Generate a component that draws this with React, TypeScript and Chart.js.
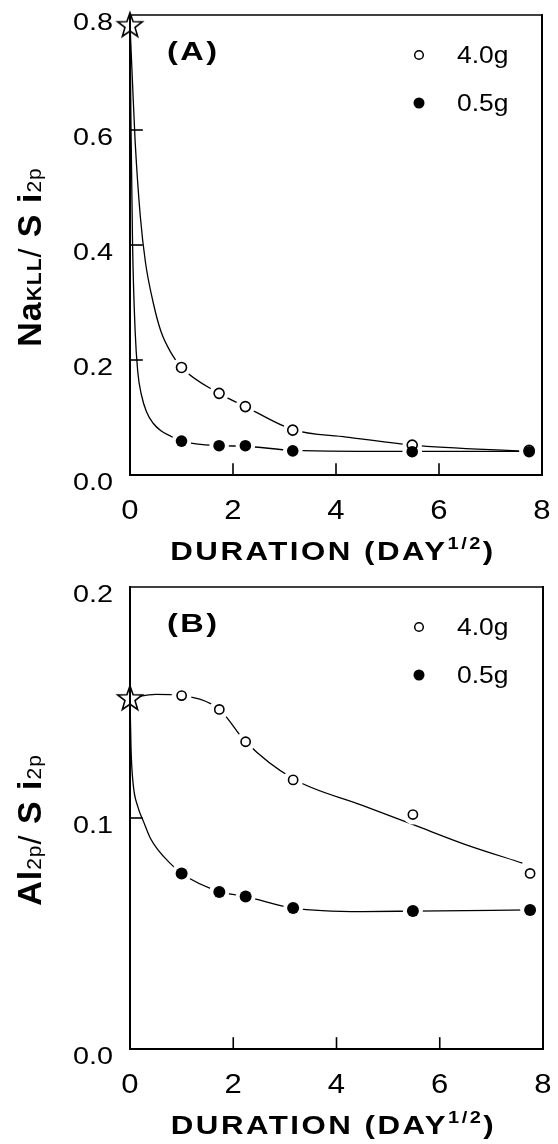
import React, { useEffect, useRef } from "react";
import { Chart, registerables } from "chart.js";

Chart.register(...registerables);

// ---------- shared ----------
const X_DAYS = [1, 1.73, 2.24, 3.16, 5.48, 7.75];
const X_TICKS = [0, 2, 4, 6, 8];
const X_TICK_LABELS = ["0", "2", "4", "6", "8"];
const SERIES_LABELS = ["4.0g", "0.5g"];

// ---------- panel A : Na(KLL)/Si(2p) ----------
const A_Y_TICKS = [0, 0.2, 0.4, 0.6, 0.8];
const A_Y_TICK_LABELS = ["0.0", "0.2", "0.4", "0.6", "0.8"];
const A_STAR = 0.783;
const A_40 = [0.187, 0.142, 0.119, 0.078, 0.052, 0.043];
const A_05 = [0.059, 0.051, 0.051, 0.042, 0.0405, 0.0405];
const A_40_CURVE_X = [0, 0.04, 0.1, 0.2, 0.3, 0.45, 0.6, 0.8, 1, 1.73, 2.24, 3.16, 4.2, 5.48, 7.75];
const A_40_CURVE_Y = [0.783, 0.7, 0.58, 0.45, 0.37, 0.3, 0.25, 0.212, 0.187, 0.142, 0.119, 0.079, 0.066, 0.052, 0.041];
const A_05_CURVE_X = [0, 0.02, 0.05, 0.1, 0.15, 0.22, 0.32, 0.45, 0.6, 0.8, 1, 1.73, 2.24, 3.16, 5.48, 7.75];
const A_05_CURVE_Y = [0.783, 0.6, 0.4, 0.25, 0.18, 0.14, 0.11, 0.09, 0.077, 0.067, 0.059, 0.051, 0.05, 0.043, 0.041, 0.041];

// ---------- panel B : Al(2p)/Si(2p) ----------
const B_Y_TICKS = [0, 0.1, 0.2];
const B_Y_TICK_LABELS = ["0.0", "0.1", "0.2"];
const B_STAR = 0.152;
const B_40 = [0.153, 0.147, 0.133, 0.1165, 0.1015, 0.076];
const B_05 = [0.076, 0.068, 0.066, 0.061, 0.0597, 0.0602];
const B_40_CURVE_X = [0, 0.5, 1, 1.73, 2.24, 3.16, 4.5, 5.5, 6.5, 7.6];
const B_40_CURVE_Y = [0.152, 0.1535, 0.153, 0.147, 0.133, 0.117, 0.1055, 0.097, 0.0885, 0.0805];
const B_05_CURVE_X = [0, 0.02, 0.06, 0.15, 0.27, 0.4, 0.55, 0.75, 1, 1.75, 2.24, 3.16, 4.5, 5.5, 7.75];
const B_05_CURVE_Y = [0.152, 0.13, 0.115, 0.105, 0.098, 0.091, 0.086, 0.081, 0.076, 0.068, 0.066, 0.061, 0.0595, 0.0597, 0.0602];

type Part = { t: string; font: string; dy?: number };

const FAM = "'Liberation Sans', Arial, sans-serif";

function txt(
  ctx: CanvasRenderingContext2D,
  s: string,
  x: number,
  y: number,
  font: string,
  align: CanvasTextAlign = "left",
  sx = 1.2,
  ls = 0
) {
  ctx.save();
  ctx.translate(x, y);
  ctx.scale(sx, 1);
  ctx.font = font;
  (ctx as any).letterSpacing = ls + "px";
  ctx.textAlign = align;
  ctx.textBaseline = "alphabetic";
  ctx.fillStyle = "#000";
  ctx.fillText(s, 0, 0);
  ctx.restore();
}

function rich(
  ctx: CanvasRenderingContext2D,
  parts: Part[],
  x: number,
  y: number,
  sx: number,
  rot: boolean,
  ls = 0
) {
  ctx.save();
  ctx.translate(x, y);
  ctx.scale(sx, 1);
  if (rot) ctx.rotate(-Math.PI / 2);
  (ctx as any).letterSpacing = ls + "px";
  ctx.textBaseline = "alphabetic";
  ctx.textAlign = "left";
  ctx.fillStyle = "#000";
  let total = 0;
  const widths = parts.map((p) => {
    ctx.font = p.font;
    const w = ctx.measureText(p.t).width;
    total += w;
    return w;
  });
  let cx = -total / 2;
  parts.forEach((p, i) => {
    ctx.font = p.font;
    ctx.fillText(p.t, cx, p.dy || 0);
    cx += widths[i];
  });
  ctx.restore();
}

function makeStar() {
  const c = document.createElement("canvas");
  c.width = 30;
  c.height = 30;
  const g = c.getContext("2d")!;
  g.beginPath();
  for (let i = 0; i < 10; i++) {
    const r = i % 2 === 0 ? 13 : 5.3;
    const a = -Math.PI / 2 + (i * Math.PI) / 5;
    const px = 15 + r * Math.cos(a);
    const py = 16 + r * Math.sin(a);
    if (i === 0) g.moveTo(px, py);
    else g.lineTo(px, py);
  }
  g.closePath();
  g.fillStyle = "#fff";
  g.fill();
  g.lineWidth = 1.6;
  g.strokeStyle = "#000";
  g.stroke();
  return c;
}

const pts = (xs: number[], ys: number[]) => xs.map((x, i) => ({ x, y: ys[i] }));

type Cfg = {
  height: number;
  pad: { left: number; right: number; top: number; bottom: number };
  yMax: number;
  yTicks: number[];
  yTickLabels: string[];
  star: number;
  s40: number[];
  s05: number[];
  c40x: number[];
  c40y: number[];
  c05x: number[];
  c05y: number[];
  panelLabel: string;
  yTitle: Part[];
  openR: number;
  fillR: number;
};

function decor(cfg: Cfg) {
  return {
    id: "decor" + cfg.panelLabel,
    afterDraw(chart: any) {
      const ctx: CanvasRenderingContext2D = chart.ctx;
      const { left, right, top, bottom } = chart.chartArea;
      const xs = chart.scales.x;
      const ys = chart.scales.y;
      ctx.save();
      ctx.strokeStyle = "#000";
      ctx.lineCap = "square";
      // frame
      ctx.lineWidth = 2;
      ctx.beginPath();
      ctx.moveTo(left, top);
      ctx.lineTo(left, bottom);
      ctx.lineTo(right, bottom);
      ctx.lineTo(right, top);
      ctx.stroke();
      ctx.lineWidth = 1.5;
      ctx.beginPath();
      ctx.moveTo(left, top);
      ctx.lineTo(right, top);
      ctx.stroke();
      // inward ticks
      ctx.lineWidth = 1.6;
      cfg.yTicks.forEach((v) => {
        if (v <= 0 || v >= cfg.yMax) return;
        const py = ys.getPixelForValue(v);
        ctx.beginPath();
        ctx.moveTo(left, py);
        ctx.lineTo(left + 12, py);
        ctx.stroke();
      });
      X_TICKS.forEach((v) => {
        if (v <= 0 || v >= 8) return;
        const px = xs.getPixelForValue(v);
        ctx.beginPath();
        ctx.moveTo(px, bottom);
        ctx.lineTo(px, bottom - 11);
        ctx.stroke();
      });
      ctx.restore();

      // y tick labels
      cfg.yTicks.forEach((v, i) => {
        const py = ys.getPixelForValue(v);
        txt(ctx, cfg.yTickLabels[i], 113, py + 15, "24px " + FAM, "right", 1.2, 0);
      });
      // x tick labels
      X_TICKS.forEach((v, i) => {
        const px = xs.getPixelForValue(v);
        txt(ctx, X_TICK_LABELS[i], px, bottom + 44, "27px " + FAM, "center", 1.15, 0);
      });
      // x title
      const tx = (left + right) / 2;
      rich(
        ctx,
        [
          { t: "DURATION (DAY", font: "bold 25px " + FAM },
          { t: "1/2", font: "bold 16px " + FAM, dy: -11 },
          { t: ")", font: "bold 25px " + FAM },
        ],
        tx - 3,
        bottom + 85,
        1.25,
        false,
        2
      );
      // y title
      rich(ctx, cfg.yTitle, 41, (top + bottom) / 2 + 12, 1, true, 1);

      // panel label
      txt(ctx, cfg.panelLabel, 167, top + 45, "bold 26px " + FAM, "left", 1.25, 2);

      // legend
      const lx = 419;
      const ly1 = top + 40;
      const ly2 = top + 88;
      ctx.save();
      ctx.beginPath();
      ctx.arc(lx, ly1, 4.3, 0, Math.PI * 2);
      ctx.fillStyle = "#fff";
      ctx.fill();
      ctx.lineWidth = 1.5;
      ctx.strokeStyle = "#000";
      ctx.stroke();
      ctx.beginPath();
      ctx.arc(lx, ly2, 5.5, 0, Math.PI * 2);
      ctx.fillStyle = "#000";
      ctx.fill();
      ctx.restore();
      txt(ctx, SERIES_LABELS[0], 457, ly1 + 8, "23px " + FAM, "left", 1.15, 0);
      txt(ctx, SERIES_LABELS[1], 457, ly2 + 8, "23px " + FAM, "left", 1.15, 0);
    },
  };
}

function Panel({ cfg }: { cfg: Cfg }) {
  const ref = useRef<HTMLCanvasElement>(null);
  useEffect(() => {
    const star = makeStar();
    const chart = new Chart(ref.current!, {
      type: "scatter",
      data: {
        datasets: [
          {
            label: "fit 4.0g",
            data: pts(cfg.c40x, cfg.c40y),
            showLine: true,
            borderColor: "#000",
            borderWidth: 1.3,
            pointRadius: 0,
            cubicInterpolationMode: "monotone",
            order: 5,
            clip: false,
          } as any,
          {
            label: "fit 0.5g",
            data: pts(cfg.c05x, cfg.c05y),
            showLine: true,
            borderColor: "#000",
            borderWidth: 1.3,
            pointRadius: 0,
            cubicInterpolationMode: "monotone",
            order: 5,
            clip: false,
          } as any,
          {
            label: "halo",
            data: [...pts(X_DAYS, cfg.s40), ...pts(X_DAYS, cfg.s05)],
            showLine: false,
            pointRadius: cfg.fillR + 4,
            pointBackgroundColor: "#fff",
            pointBorderWidth: 0,
            order: 4,
            clip: false,
          } as any,
          {
            label: SERIES_LABELS[0],
            data: pts(X_DAYS, cfg.s40),
            showLine: false,
            pointRadius: cfg.openR,
            pointBackgroundColor: "#fff",
            pointBorderColor: "#000",
            pointBorderWidth: 1.6,
            order: 2,
            clip: false,
          } as any,
          {
            label: SERIES_LABELS[1],
            data: pts(X_DAYS, cfg.s05),
            showLine: false,
            pointRadius: cfg.fillR,
            pointBackgroundColor: "#000",
            pointBorderColor: "#000",
            pointBorderWidth: 0,
            order: 1,
            clip: false,
          } as any,
          {
            label: "initial",
            data: [{ x: 0, y: cfg.star }],
            showLine: false,
            pointStyle: star,
            pointRadius: 13,
            order: 0,
            clip: false,
          } as any,
        ],
      },
      options: {
        responsive: false,
        animation: false,
        events: [],
        layout: { padding: cfg.pad },
        scales: {
          x: { type: "linear", display: false, min: 0, max: 8 },
          y: { type: "linear", display: false, min: 0, max: cfg.yMax },
        },
        plugins: { legend: { display: false }, tooltip: { enabled: false } },
      },
      plugins: [decor(cfg)],
    });
    return () => chart.destroy();
  }, []);
  return (
    <canvas
      ref={ref}
      width={558}
      height={cfg.height}
      style={{ display: "block", width: 558, height: cfg.height }}
    />
  );
}

const CFG_A: Cfg = {
  height: 572,
  pad: { left: 130, right: 16, top: 15, bottom: 97 },
  yMax: 0.8,
  yTicks: A_Y_TICKS,
  yTickLabels: A_Y_TICK_LABELS,
  star: A_STAR,
  s40: A_40,
  s05: A_05,
  c40x: A_40_CURVE_X,
  c40y: A_40_CURVE_Y,
  c05x: A_05_CURVE_X,
  c05y: A_05_CURVE_Y,
  panelLabel: "(A)",
  yTitle: [
    { t: "Na", font: "bold 34px " + FAM },
    { t: "KLL", font: "bold 21px " + FAM },
    { t: "/", font: "32px " + FAM },
    { t: " S", font: "bold 34px " + FAM },
    { t: " i", font: "bold 34px " + FAM },
    { t: "2p", font: "21px " + FAM },
  ],
  openR: 5,
  fillR: 5.8,
};

const CFG_B: Cfg = {
  height: 572,
  pad: { left: 130, right: 15, top: 15, bottom: 95 },
  yMax: 0.2,
  yTicks: B_Y_TICKS,
  yTickLabels: B_Y_TICK_LABELS,
  star: B_STAR,
  s40: B_40,
  s05: B_05,
  c40x: B_40_CURVE_X,
  c40y: B_40_CURVE_Y,
  c05x: B_05_CURVE_X,
  c05y: B_05_CURVE_Y,
  panelLabel: "(B)",
  yTitle: [
    { t: "Al", font: "bold 34px " + FAM },
    { t: "2p", font: "21px " + FAM },
    { t: "/", font: "32px " + FAM },
    { t: " S", font: "bold 34px " + FAM },
    { t: " i", font: "bold 34px " + FAM },
    { t: "2p", font: "21px " + FAM },
  ],
  openR: 4.6,
  fillR: 6,
};

export default function App() {
  return (
    <div style={{ position: "absolute", left: 0, top: 0, width: 558, height: 1144, background: "#fff" }}>
      <Panel cfg={CFG_A} />
      <Panel cfg={CFG_B} />
    </div>
  );
}
